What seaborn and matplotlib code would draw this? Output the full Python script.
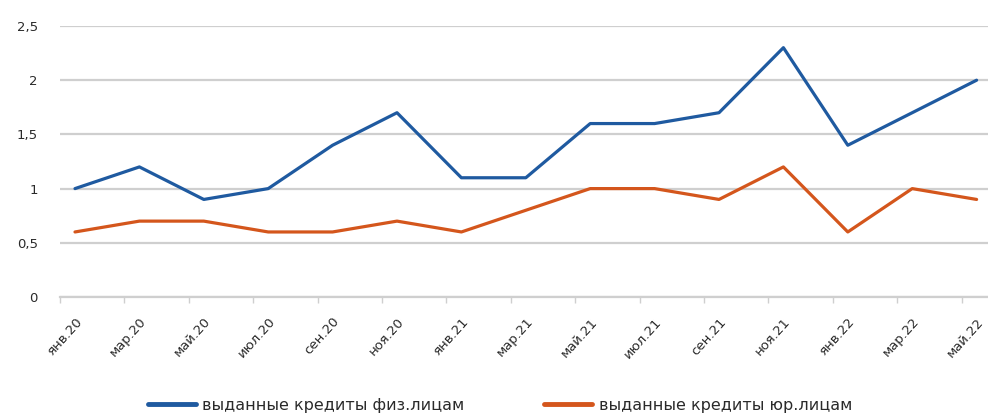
import matplotlib
matplotlib.use("Agg")
import matplotlib.pyplot as plt
import seaborn as sns
import pandas as pd
from matplotlib.lines import Line2D
from matplotlib.ticker import FixedLocator

months = ["янв.20", "мар.20", "май.20", "июл.20", "сен.20", "ноя.20", "янв.21", "мар.21",
          "май.21", "июл.21", "сен.21", "ноя.21", "янв.22", "мар.22", "май.22"]
phys = [1.0, 1.2, 0.9, 1.0, 1.4, 1.7, 1.1, 1.1, 1.6, 1.6, 1.7, 2.3, 1.4, 1.7, 2.0]
corp = [0.6, 0.7, 0.7, 0.6, 0.6, 0.7, 0.6, 0.8, 1.0, 1.0, 0.9, 1.2, 0.6, 1.0, 0.9]
series_names = ["выданные кредиты физ.лицам", "выданные кредиты юр.лицам"]
ytick_vals = [0, 0.5, 1, 1.5, 2, 2.5]
ytick_labels = ["0", "0,5", "1", "1,5", "2", "2,5"]

sns.set_theme(style="white")
plt.rcParams["font.family"] = ["DejaVu Sans"]

df = pd.DataFrame({
    "x": list(range(len(months))) * 2,
    "value": phys + corp,
    "series": [series_names[0]] * len(months) + [series_names[1]] * len(months),
})

fig = plt.figure(figsize=(9.88, 4.2), dpi=100)
ax = fig.add_axes([60 / 988, 1 - 297 / 420, 1 - 60 / 988, (297 - 26) / 420])

sns.lineplot(data=df, x="x", y="value", hue="series",
             palette=["#1f5aa0", "#d4561c"], linewidth=2.3, ax=ax, legend=False)

ax.set_ylim(0, 2.5)
step = 64.4
ax.set_xlim(-15 / step, (988 - 75) / step)
ax.set_yticks(ytick_vals)
ax.set_yticklabels(ytick_labels, fontsize=9.5, color="#2a2a2a")
ax.yaxis.grid(True, color="#cfcfcf", linewidth=1.6)
ax.xaxis.grid(False)
for s in ["top", "right", "left"]:
    ax.spines[s].set_visible(False)
ax.spines["bottom"].set_color("#cfcfcf")
ax.spines["bottom"].set_linewidth(1.6)
ax.tick_params(axis="y", length=0, pad=16)

positions = list(range(len(months)))
ax.set_xticks(positions)
ax.set_xticklabels(months, rotation=48, ha="right", rotation_mode="anchor",
                   fontsize=9.5, color="#2a2a2a")
ax.tick_params(axis="x", which="major", length=0, pad=13, bottom=True)
ax.xaxis.set_minor_locator(FixedLocator([i - 15 / step for i in positions]))
ax.tick_params(axis="x", which="minor", length=4, width=1, color="#cfcfcf", bottom=True)
ax.set_xlabel("")
ax.set_ylabel("")

handles = [Line2D([], [], color="#1f5aa0", linewidth=3.5),
           Line2D([], [], color="#d4561c", linewidth=3.5)]
fig.legend(handles, series_names, loc="center", bbox_to_anchor=(0.506, 0.035),
           ncol=2, frameon=False, fontsize=11.5, handlelength=3.0, columnspacing=5,
           handletextpad=0.4, labelcolor="#2a2a2a")

fig.savefig("out.png", dpi=100)
